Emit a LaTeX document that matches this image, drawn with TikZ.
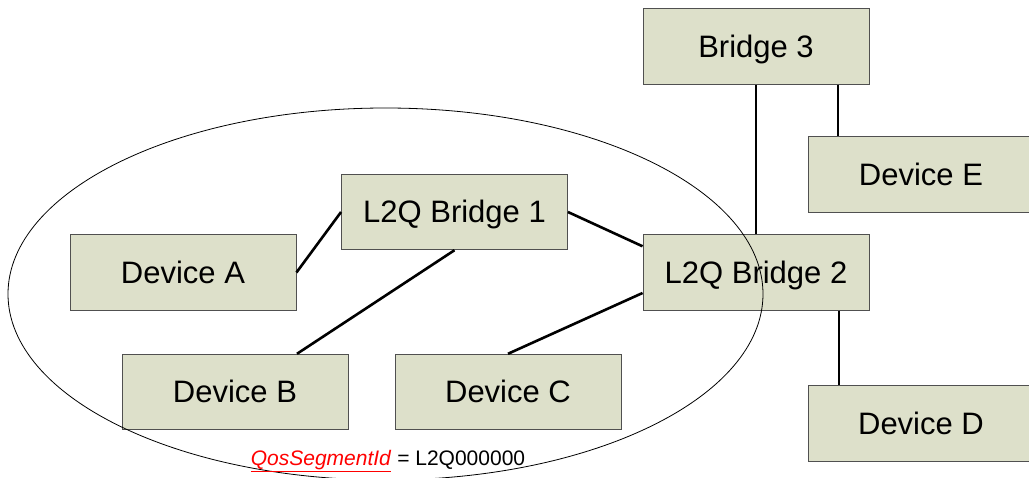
\documentclass[tikz,border=0pt]{standalone}
\usepackage{fontspec}
\setmainfont{Liberation Sans}
\definecolor{boxfill}{HTML}{DDE0CA}
\definecolor{boxline}{HTML}{505050}
\begin{document}
\begin{tikzpicture}[x=1pt,y=-1pt,
  netbox/.style={draw=boxline,line width=0.9pt,fill=boxfill,minimum width=226pt,minimum height=75.5pt,inner sep=0pt,
    font=\fontsize{31}{31}\selectfont,text height=22pt,text depth=0pt},
  link/.style={line width=2.6pt,black}]
\useasboundingbox (0,0) rectangle (1029,478);
\node[netbox] (B3) at (756,46.5) {Bridge 3};
\node[netbox] (DE) at (921,174.5) {Device E};
\node[netbox] (B1) at (454.5,212) {L2Q Bridge 1};
\node[netbox] (DA) at (183,272.5) {Device A};
\node[netbox] (B2) at (756,272.5) {L2Q Bridge 2};
\node[netbox] (DB) at (235,392) {Device B};
\node[netbox] (DC) at (508,392) {Device C};
\node[netbox] (DD) at (921,423.5) {Device D};
\draw[link] (DA.east) -- (B1.west);
\draw[link] (B1.east) -- ([yshift=-12pt]B2.north west);
\draw[link] (B1.south) -- ([xshift=62pt]DB.north);
\draw[link] ([yshift=-20.5pt]B2.west) -- (DC.north);
\draw[link] (B3.south) -- (B2.north);
\draw[link] ([xshift=82pt]B3.south) -- ([xshift=82pt]B3.south |- DE.north);
\draw[link] ([xshift=83pt]B2.south) -- ([xshift=83pt]B2.south |- DD.north);
\draw[line width=0.8pt] (385.5,294) ellipse [x radius=377.5, y radius=186];
\node[inner sep=0pt,anchor=base,font=\fontsize{21}{21}\selectfont] (lbl) at (388,465)
  {\textcolor{red}{\underline{\textit{QosSegmentId}}} = L2Q000000};
\end{tikzpicture}
\end{document}
